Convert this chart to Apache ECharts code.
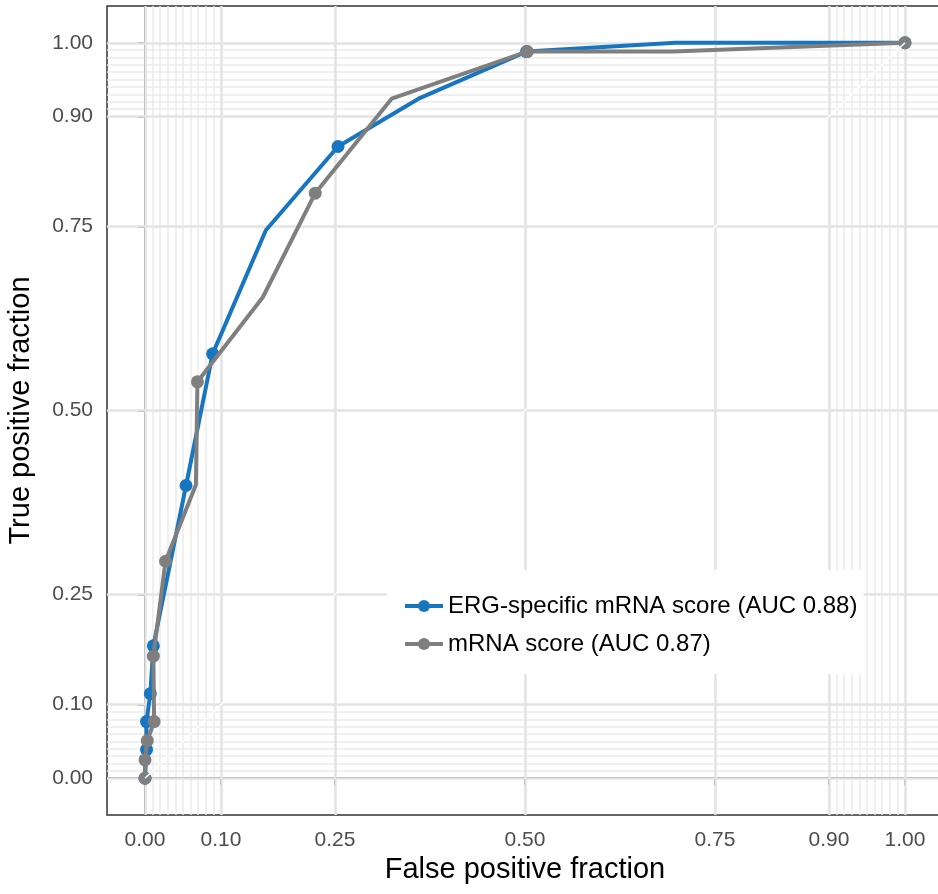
<!DOCTYPE html>
<html>
<head>
<meta charset="utf-8">
<script src="https://cdn.jsdelivr.net/npm/echarts@6/dist/echarts.min.js"></script>
<style>html,body{margin:0;padding:0;background:#fff;}#c{width:938px;height:894px;}</style>
</head>
<body>
<div id="c"></div>
<script>
// ---- data ----
const seriesNames = ['ERG-specific mRNA score (AUC 0.88)', 'mRNA score (AUC 0.87)'];

// ERG-specific mRNA score: ROC path vertices
const ergFpf = [0, 0.002, 0.002, 0.007, 0.011, 0.054, 0.089, 0.159, 0.254, 0.36, 0.502, 0.698, 1];
const ergTpf = [0, 0.039, 0.077, 0.115, 0.18, 0.398, 0.577, 0.745, 0.859, 0.924, 0.988, 1, 1];
// ERG-specific: cut-point markers
const ergCutFpf = [0, 0.002, 0.002, 0.007, 0.011, 0.054, 0.089, 0.254, 0.502, 1];
const ergCutTpf = [0, 0.039, 0.077, 0.115, 0.18, 0.398, 0.577, 0.859, 0.988, 1];

// mRNA score: ROC path vertices
const mrnaFpf = [0, 0, 0.003, 0.012, 0.011, 0.027, 0.067, 0.069, 0.155, 0.224, 0.3245, 0.503, 0.695, 1];
const mrnaTpf = [0, 0.025, 0.051, 0.077, 0.166, 0.295, 0.399, 0.539, 0.654, 0.7955, 0.924, 0.988, 0.988, 1];
// mRNA score: cut-point markers
const mrnaCutFpf = [0, 0, 0.003, 0.012, 0.011, 0.027, 0.069, 0.224, 0.503, 1];
const mrnaCutTpf = [0, 0.025, 0.051, 0.077, 0.166, 0.295, 0.539, 0.7955, 0.988, 1];

// axis ticks / grid breaks
const majorBreaks = [0, 0.1, 0.25, 0.5, 0.75, 0.9, 1];
const minorBreaks = [0.01, 0.02, 0.03, 0.04, 0.05, 0.06, 0.07, 0.08, 0.09,
                     0.91, 0.92, 0.93, 0.94, 0.95, 0.96, 0.97, 0.98, 0.99];
const diagonal = [0, 1];

// ---- chart ----
const zip = (a, b) => a.map((v, i) => [v, b[i]]);
const BLUE = '#1876c0', GRAY = '#7f7f7f';

function gridLines(values, color, width, z) {
  return {
    type: 'line', data: [], silent: true, z: z,
    markLine: {
      silent: true, symbol: ['none', 'none'], animation: false, z: z,
      label: { show: false },
      lineStyle: { color: color, width: width, type: 'solid' },
      emphasis: { disabled: true },
      data: values.map(v => ({ xAxis: v })).concat(values.map(v => ({ yAxis: v })))
    }
  };
}

const chart = echarts.init(document.getElementById('c'), null, { renderer: 'canvas' });
const axisCommon = {
  type: 'value', min: -0.05, max: 1.05,
  nameLocation: 'middle',
  nameTextStyle: { fontFamily: 'Liberation Sans', fontSize: 29, color: '#000' },
  axisLine: { show: true, lineStyle: { color: '#333', width: 1.5 } },
  axisTick: { show: true, customValues: majorBreaks, length: 7, lineStyle: { color: '#333', width: 1.5 } },
  axisLabel: { customValues: majorBreaks, formatter: v => v.toFixed(2),
               fontFamily: 'Liberation Sans', fontSize: 21, color: '#4d4d4d' },
  splitLine: { show: false }
};

chart.setOption({
  animation: false,
  backgroundColor: '#fff',
  grid: { left: 107, right: -5, top: 6, bottom: 79, containLabel: false, outerBoundsMode: 'none',
          show: true, borderColor: '#333', borderWidth: 1.5, backgroundColor: 'transparent' },
  xAxis: Object.assign({}, axisCommon, {
    name: 'False positive fraction', nameGap: 38,
    axisLabel: Object.assign({}, axisCommon.axisLabel, { margin: 15 })
  }),
  yAxis: Object.assign({}, axisCommon, {
    name: 'True positive fraction', nameGap: 72,
    axisLabel: Object.assign({}, axisCommon.axisLabel, { margin: 14 })
  }),
  legend: {
    data: seriesNames,
    orient: 'vertical', left: 387, top: 570,
    padding: [22, 6, 16, 16],
    itemGap: 10, itemWidth: 38, itemHeight: 15,
    backgroundColor: '#fff',
    lineStyle: { width: 4 },
    textStyle: { fontFamily: 'Liberation Sans', fontSize: 24, color: '#000', lineHeight: 28 }
  },
  series: [
    gridLines(minorBreaks, '#ebebeb', 1.5, 0),
    gridLines(majorBreaks, '#e3e3e3', 2.5, 1),
    {
      name: seriesNames[0], type: 'line', data: zip(ergFpf, ergTpf),
      showSymbol: false, symbol: 'circle', symbolSize: 13,
      lineStyle: { color: BLUE, width: 4 }, itemStyle: { color: BLUE }, z: 3
    },
    {
      name: seriesNames[0], type: 'scatter', data: zip(ergCutFpf, ergCutTpf),
      symbol: 'circle', symbolSize: 13, itemStyle: { color: BLUE, opacity: 1 }, z: 3
    },
    {
      name: seriesNames[1], type: 'line', data: zip(mrnaFpf, mrnaTpf),
      showSymbol: false, symbol: 'circle', symbolSize: 13,
      lineStyle: { color: GRAY, width: 4 }, itemStyle: { color: GRAY }, z: 4
    },
    {
      name: seriesNames[1], type: 'scatter', data: zip(mrnaCutFpf, mrnaCutTpf),
      symbol: 'circle', symbolSize: 13, itemStyle: { color: GRAY, opacity: 1 }, z: 4
    },
    {
      type: 'line', data: zip(diagonal, diagonal), showSymbol: false, silent: true,
      lineStyle: { color: '#ffffff', width: 1.5 }, z: 6
    }
  ]
});
</script>
</body>
</html>
